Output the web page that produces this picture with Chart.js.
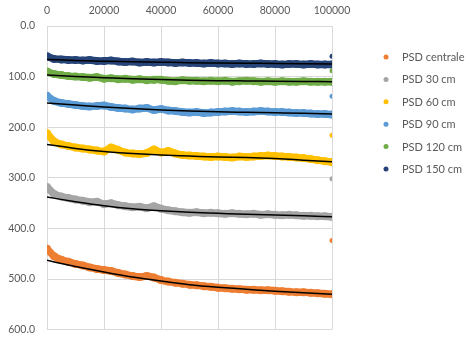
<!DOCTYPE html>
<html lang="it">
<head>
    <meta charset="UTF-8">
    <title>PSD</title>
    <script src="https://cdn.jsdelivr.net/npm/chart.js"></script>
    <style>
        body { margin: 0; background: #fff; }
    </style>
</head>
<body>
    <canvas id="myChart" width="470" height="348"></canvas>

    <script>
        // series names and colours (legend order)
        const seriesLabels = ['PSD centrale', 'PSD 30 cm', 'PSD 60 cm', 'PSD 90 cm', 'PSD 120 cm', 'PSD 150 cm'];
        const seriesColors = ['#ED7D31', '#A5A5A5', '#FFC000', '#5B9BD5', '#70AD47', '#264478'];

        // sampled x positions of the measured points
        const xs = [0, 2500, 5000, 7500, 10000, 12500, 15000, 17500, 20000, 22500,
            25000, 27500, 30000, 32500, 35000, 37500, 40000, 42500, 45000, 47500,
            50000, 52500, 55000, 57500, 60000, 62500, 65000, 67500, 70000, 72500,
            75000, 77500, 80000, 82500, 85000, 87500, 90000, 92500, 95000, 97500, 100000];

        const psdCentrale = [440, 455, 462, 466, 470, 473, 477, 480, 482, 484, 488, 491, 494, 496, 494, 497, 502, 505, 507, 509,
            511, 512, 514, 515, 517, 518, 519, 520, 521, 521, 522, 522, 523, 524, 525, 526, 526, 527, 528, 529, 530];
        const psd30 = [318, 332, 337, 340, 343, 345, 348, 347, 352, 350, 354, 356, 358, 357, 360, 356, 361, 364, 366, 368,
            369, 368, 370, 369, 370, 371, 370, 371, 372, 371, 373, 372, 373, 374, 373, 374, 375, 375, 376, 376, 377];
        const psd60 = [212, 228, 234, 237, 240, 242, 244, 246, 248, 240, 245, 250, 252, 253, 251, 244, 250, 247, 252, 255,
            256, 257, 258, 259, 258, 259, 260, 258, 259, 258, 257, 256, 257, 258, 259, 260, 261, 263, 265, 267, 269];
        const psd90 = [138, 148, 152, 154, 156, 158, 159, 158, 157, 160, 162, 163, 165, 163, 162, 166, 164, 167, 168, 170,
            171, 170, 172, 171, 170, 169, 168, 169, 170, 169, 168, 169, 170, 170, 171, 172, 172, 173, 174, 174, 175];
        const psd120 = [90, 95, 97, 99, 100, 101, 102, 101, 104, 103, 105, 104, 106, 105, 107, 106, 106, 108, 109, 107,
            108, 108, 109, 108, 109, 108, 110, 109, 108, 109, 110, 109, 110, 109, 110, 110, 109, 110, 110, 110, 110];
        const psd150 = [60, 65, 66, 67, 67, 68, 67, 69, 69, 68, 70, 71, 70, 72, 71, 72, 71, 72, 73, 72,
            73, 73, 74, 73, 74, 74, 75, 74, 75, 75, 74, 75, 75, 76, 75, 75, 76, 75, 76, 76, 76];

        // last isolated reading of each series at x = 100000
        const lastX = 100000;
        const lastValues = [424, 302, 216, 139, 88.5, 60];

        // black trend lines
        const trendXs = [0, 10000, 20000, 30000, 40000, 50000, 60000, 70000, 80000, 90000, 100000];
        const trendCentrale = [463, 475, 486, 496, 504, 511, 516, 520, 524, 527, 530];
        const trend30 = [338, 347, 355, 361, 365, 368, 370, 372, 373.5, 375, 377];
        const trend60 = [234, 242, 248, 252, 255, 257, 259, 260, 262, 265, 268];
        const trend90 = [152, 156, 160, 163, 166, 168, 169.5, 170.5, 171.5, 172.5, 174];
        const trend120 = [97, 100, 102, 104, 105.5, 107, 108, 108.5, 109, 109.5, 110];
        const trend150 = [66, 68, 69.5, 70.5, 71.5, 72.5, 73, 73.5, 74, 74.5, 75];

        const xTicks = [0, 20000, 40000, 60000, 80000, 100000];

        const seriesValues = [psdCentrale, psd30, psd60, psd90, psd120, psd150];
        const trendValues = [trendCentrale, trend30, trend60, trend90, trend120, trend150];

        const textColor = '#595959';
        const gridColor = '#D9D9D9';

        const datasets = [];
        seriesValues.forEach((vals, i) => {
            datasets.push({
                label: seriesLabels[i],
                data: vals.map((v, j) => ({ x: xs[j], y: v })),
                showLine: true,
                backgroundColor: seriesColors[i],
                borderColor: seriesColors[i],
                borderWidth: 7.5,
                tension: 0.2,
                pointBorderWidth: 0,
                pointRadius: 4,
                pointHoverRadius: 4,
                order: 2
            });
        });
        trendValues.forEach((vals, i) => {
            datasets.push({
                label: 'trend ' + seriesLabels[i],
                data: vals.map((v, j) => ({ x: trendXs[j], y: v })),
                showLine: true,
                borderColor: '#000000',
                borderWidth: 1.5,
                pointRadius: 0,
                cubicInterpolationMode: 'monotone',
                order: 1
            });
        });
        datasets.push({
            label: 'last',
            data: lastValues.map(v => ({ x: lastX, y: v })),
            backgroundColor: seriesColors,
            borderWidth: 0,
            pointRadius: 2.5,
            order: 1
        });

        // legend drawn to the right of the plot, like the spreadsheet one
        const sideLegend = {
            id: 'sideLegend',
            afterDraw(chart) {
                const ctx = chart.ctx;
                ctx.save();
                ctx.font = '11px Lato';
                ctx.textBaseline = 'middle';
                ctx.textAlign = 'left';
                for (let i = 0; i < seriesLabels.length; i++) {
                    const y = 57 + i * 22.4;
                    ctx.fillStyle = seriesColors[i];
                    ctx.beginPath();
                    ctx.arc(386, y, 2.5, 0, Math.PI * 2);
                    ctx.fill();
                    ctx.fillStyle = textColor;
                    ctx.fillText(seriesLabels[i], 402, y + 0.5);
                }
                ctx.restore();
            }
        };

        const ctx = document.getElementById('myChart').getContext('2d');
        const myChart = new Chart(ctx, {
            type: 'scatter',
            data: { datasets: datasets },
            options: {
                responsive: false,
                animation: false,
                layout: { padding: { top: 0, right: 138, bottom: 12, left: 0 } },
                plugins: {
                    legend: { display: false },
                    tooltip: { enabled: false }
                },
                scales: {
                    x: {
                        type: 'linear',
                        position: 'top',
                        min: 0,
                        max: 100000,
                        afterBuildTicks: scale => { scale.ticks = xTicks.map(v => ({ value: v })); },
                        afterFit: scale => { scale.height = 26; },
                        grid: { color: gridColor, drawTicks: false },
                        border: { color: gridColor },
                        ticks: {
                            color: textColor,
                            font: { family: 'Lato', size: 10.5 },
                            padding: 9,
                            maxRotation: 0,
                            callback: v => String(v)
                        }
                    },
                    y: {
                        type: 'linear',
                        reverse: true,
                        min: 0,
                        max: 600,
                        afterFit: scale => { scale.width = 47; },
                        grid: { color: gridColor, drawTicks: false },
                        border: { color: gridColor },
                        ticks: {
                            stepSize: 100,
                            color: textColor,
                            font: { family: 'Lato', size: 10.5 },
                            padding: 12,
                            callback: v => Number(v).toFixed(1)
                        }
                    }
                }
            },
            plugins: [sideLegend]
        });
    </script>
</body>
</html>
